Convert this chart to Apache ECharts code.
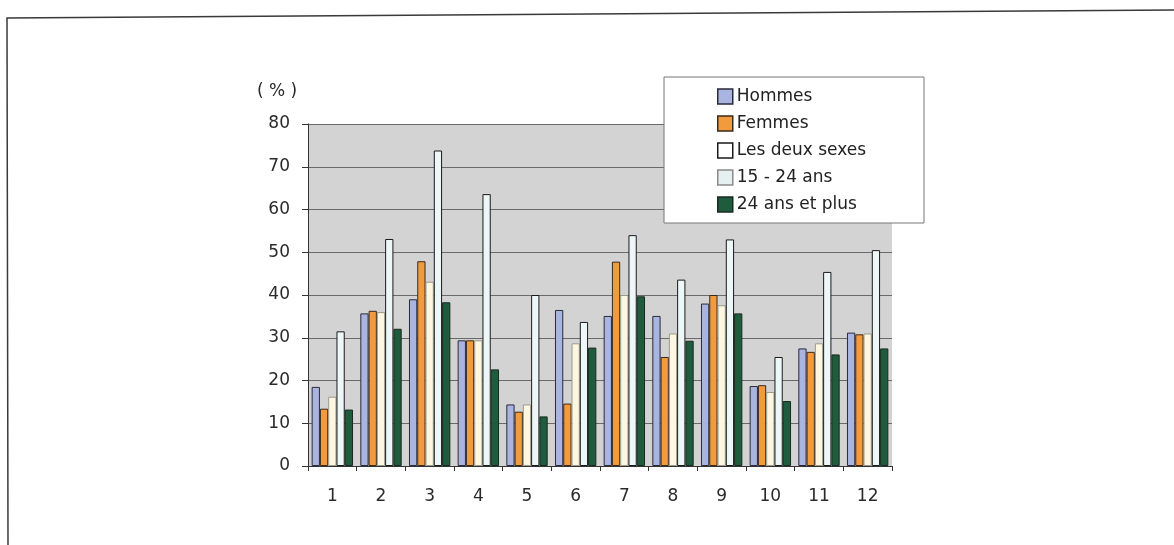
<!DOCTYPE html>
<html>
<head>
<meta charset="utf-8">
<style>
  html, body { margin: 0; padding: 0; background: #ffffff; }
  #chart { width: 1174px; height: 545px; }
</style>
<script src="https://cdn.jsdelivr.net/npm/echarts@6/dist/echarts.min.js"></script>
</head>
<body>
<div id="chart"></div>
<script>
// Categories (1..12) and rates in percent for each population group
const categories = ['1', '2', '3', '4', '5', '6', '7', '8', '9', '10', '11', '12'];
const seriesNames = ['Hommes', 'Femmes', 'Les deux sexes', '15 - 24 ans', '24 ans et plus'];
const hommes    = [18.5, 35.7, 39.0, 29.4, 14.4, 36.5, 35.1, 35.1, 38.0, 18.7, 27.5, 31.2];
const femmes    = [13.4, 36.3, 47.9, 29.4, 12.7, 14.6, 47.8, 25.5, 40.0, 18.9, 26.7, 30.8];
const deuxSexes = [16.2, 36.0, 43.1, 29.4, 14.4, 28.7, 40.0, 31.0, 37.6, 17.3, 28.7, 31.0];
const jeunes    = [31.5, 53.1, 73.8, 63.6, 40.0, 33.7, 54.0, 43.6, 53.0, 25.5, 45.4, 50.5];
const adultes   = [13.2, 32.1, 38.3, 22.6, 11.6, 27.7, 39.7, 29.3, 35.7, 15.2, 26.1, 27.5];
const yTicks = [0, 10, 20, 30, 40, 50, 60, 70, 80];

const FONT = 'DejaVu Sans';
const fills = ['#a9b4e0', '#f29a3e', '#fdf7e2', '#eef7f7', '#1f5b3d'];
const borders = ['#2a2a3a', '#3a2a1a', '#9a9a8a', '#1a1a1a', '#1a2a20'];
// swatch look in the key box
const keyFills = ['#a9b4e0', '#f29a3e', '#ffffff', '#e6f0f0', '#1f5b3d'];
const keyBorders = ['#2a2a3a', '#3a2a1a', '#1a1a1a', '#8a8a8a', '#1a2a20'];
const values = [hommes, femmes, deuxSexes, jeunes, adultes];

const chart = echarts.init(document.getElementById('chart'), null, { renderer: 'canvas' });

chart.setOption({
  animation: false,
  backgroundColor: '#ffffff',
  textStyle: { fontFamily: FONT },
  grid: {
    left: 308, right: 282, top: 124, bottom: 79,
    show: true, backgroundColor: '#d3d3d3', borderWidth: 0
  },
  legend: {
    orient: 'vertical',
    left: 664, top: 77,
    padding: [11, 58, 10, 53],
    itemGap: 10,
    itemWidth: 15, itemHeight: 15,
    icon: 'rect',
    backgroundColor: '#ffffff',
    borderColor: '#777777', borderWidth: 1, borderRadius: 0,
    textStyle: { fontFamily: FONT, fontSize: 17, color: '#222222', padding: [0, 0, 0, -1] },
    data: seriesNames.map((name, i) => ({
      name: name,
      itemStyle: { color: keyFills[i], borderColor: keyBorders[i], borderWidth: 1.5 }
    }))
  },
  xAxis: {
    type: 'category',
    data: categories,
    axisLine: { lineStyle: { color: '#333333', width: 1 } },
    axisTick: { show: true, length: 5, lineStyle: { color: '#333333' } },
    axisLabel: { fontFamily: FONT, fontSize: 17, color: '#2a2a2a', margin: 22 }
  },
  yAxis: {
    type: 'value',
    min: yTicks[0], max: yTicks[yTicks.length - 1], interval: 10,
    axisLine: { show: true, lineStyle: { color: '#333333', width: 1 } },
    axisTick: { show: true, length: 6, lineStyle: { color: '#333333' } },
    axisLabel: { fontFamily: FONT, fontSize: 17, color: '#2a2a2a', margin: 18 },
    splitLine: { show: true, lineStyle: { color: '#6a6a6a', width: 1 } }
  },
  series: seriesNames.map((name, i) => ({
    name: name,
    type: 'bar',
    data: values[i],
    barGap: '0%',
    barCategoryGap: '15%',
    itemStyle: { color: fills[i], borderColor: borders[i], borderWidth: 1 }
  })),
  graphic: [
    {
      type: 'text', left: 257, top: 83,
      style: { text: '( % )', font: '17px "DejaVu Sans"', fill: '#2a2a2a' }
    },
    {
      type: 'polyline', silent: true,
      shape: { points: [[8, 545], [7, 18], [1174, 10]] },
      style: { stroke: '#3a3a3a', lineWidth: 1.5, fill: null }
    }
  ]
});
</script>
</body>
</html>
